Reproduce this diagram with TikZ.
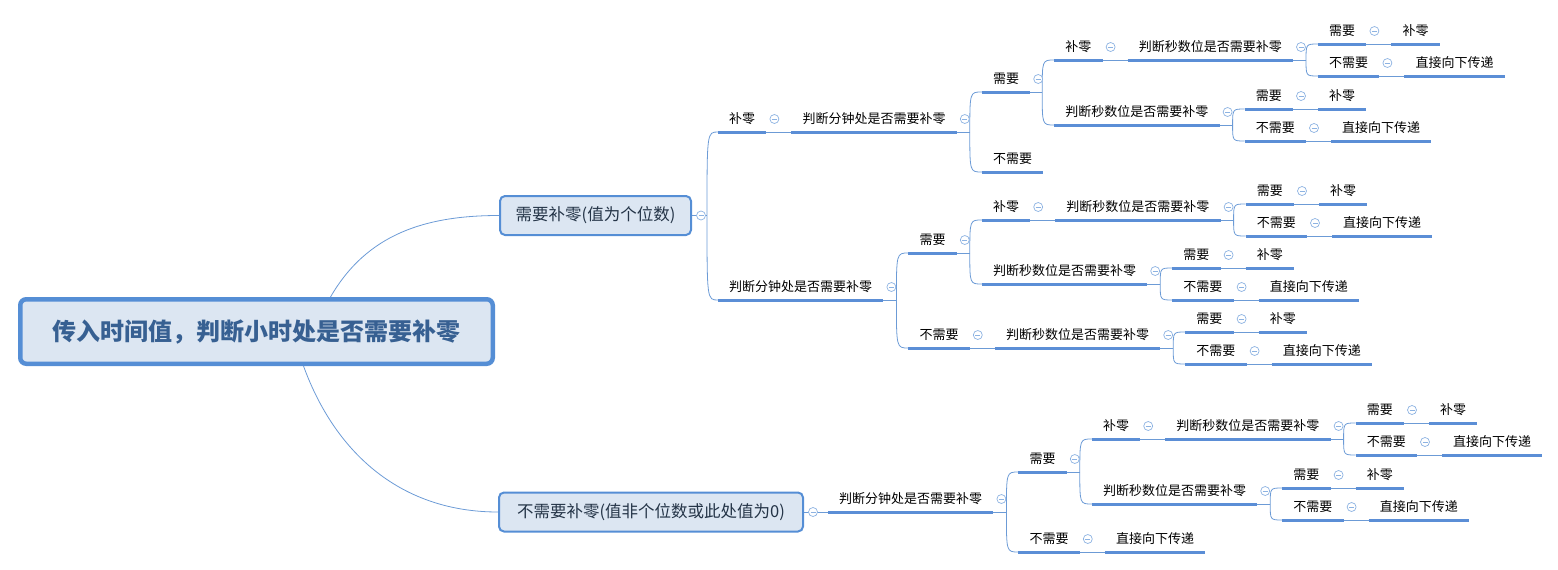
\documentclass[tikz,border=0pt]{standalone}
\usepackage{fontspec}
\newfontfamily\cjk{Noto Sans CJK SC}
\usetikzlibrary{calc}
\definecolor{ublue}{HTML}{5B8ED6}
\definecolor{lblue}{HTML}{6C9BD6}
\definecolor{foldblue}{HTML}{8DB3E2}
\definecolor{boxfill}{HTML}{DCE6F2}
\definecolor{boxline}{HTML}{558ED5}
\definecolor{roottext}{HTML}{376092}
\definecolor{subtext}{HTML}{243447}
\tikzset{
  uline/.style={draw=ublue, line width=3pt},
  link/.style={draw=lblue, line width=0.8pt},
  topic/.style={font=\cjk\fontsize{13}{13}\selectfont, text=black, inner xsep=11pt, inner ysep=0pt,
    text height=13pt, text depth=8pt, anchor=south west,
    append after command={(\tikzlastnode.south west) edge[uline] (\tikzlastnode.south east)}},
  fold/.style={circle, draw=foldblue, line width=0.7pt, fill=white, inner sep=0pt, minimum size=9pt,
    path picture={\draw[foldblue, line width=0.7pt] ([xshift=-2.5pt]path picture bounding box.center) -- ([xshift=2.5pt]path picture bounding box.center);}},
  rootbox/.style={draw=boxline, line width=4.5pt, fill=boxfill, rounded corners=6pt,
    minimum width=472.5pt, minimum height=64.5pt, font=\cjk\bfseries\fontsize{24}{24}\selectfont, text=roottext},
  subbox/.style={draw=boxline, line width=2pt, fill=boxfill, rounded corners=5pt,
    minimum height=39pt, font=\cjk\fontsize{16.5}{16.5}\selectfont, text=subtext}
}
\def\topic{\node[topic]}
\def\drawlink{\draw[link]}
\def\foldnode{\node[fold]}
% bracket from a split point to the start of a child's underline
\def\branch#1#2{\drawlink (#1) .. controls (#1 |- #2) .. (#2);}
% the two answers hanging off a "判断秒数位是否需要补零" topic
\def\secpair#1{%
  \coordinate (#1s) at ($ (#1.south east) + (13,0) $);
  \drawlink (#1.south east) -- (#1s);
  \topic (#1y) at ($ (#1.south east) + (25,16) $) {需要};
  \topic (#1n) at ($ (#1.south east) + (25,-16) $) {不需要};
  \branch{#1s}{#1y.south west}
  \branch{#1s}{#1n.south west}
  \topic (#1ya) at ($ (#1y.south east) + (25,0) $) {补零};
  \topic (#1na) at ($ (#1n.south east) + (25,0) $) {直接向下传递};
  \drawlink (#1y.south east) -- (#1ya.south west);
  \drawlink (#1n.south east) -- (#1na.south west);
  \foldnode (#1f) at ($ (#1.south east) + (8,13) $) {};
  \foldnode (#1yf) at ($ (#1y.south east) + (8,13) $) {};
  \foldnode (#1nf) at ($ (#1n.south east) + (8,13) $) {};
}

\begin{document}
\begin{tikzpicture}[x=1pt,y=1pt]
\useasboundingbox (0,0) rectangle (1558,-570);

% ---------- root and the two first answers
\node[rootbox] (root) at (256.5,-331.5) {传入时间值，判断小时处是否需要补零};
\node[subbox, minimum width=191pt] (A) at (595.5,-215.5) {需要补零(值为个位数)};
\node[subbox, minimum width=304pt] (B) at (651,-512) {不需要补零(值非个位数或此处值为0)};
\coordinate (rootup) at ($ (root.north) + (74,0) $);
\coordinate (rootdown) at ($ (root.south) + (47,0) $);
\drawlink[out=60,in=180] (rootup) to (A.west);
\drawlink[out=-70,in=180] (rootdown) to (B.west);

% ---------- 需要补零
\coordinate (As) at ($ (A.east) + (15,0) $);
\drawlink (A.east) -- (As);
\topic (A1) at ($ (A.east) + (26,83.5) $) {补零};
\topic (A2) at ($ (A.east) + (26,-84.5) $) {判断分钟处是否需要补零};
\branch{As}{A1.south west}
\branch{As}{A2.south west}
\foldnode (Af) at ($ (A.east) + (9,0) $) {};

% upper half: 补零 -> 判断分钟处
\topic (A1a) at ($ (A1.south east) + (25,0) $) {判断分钟处是否需要补零};
\drawlink (A1.south east) -- (A1a.south west);
\foldnode (A1f) at ($ (A1.south east) + (8,13) $) {};
\coordinate (A1as) at ($ (A1a.south east) + (13,0) $);
\drawlink (A1a.south east) -- (A1as);
\topic (A1ay) at ($ (A1a.south east) + (25,40) $) {需要};
\topic (A1an) at ($ (A1a.south east) + (25,-40) $) {不需要};
\branch{A1as}{A1ay.south west}
\branch{A1as}{A1an.south west}
\foldnode (A1af) at ($ (A1a.south east) + (8,13) $) {};
\coordinate (A1ays) at ($ (A1ay.south east) + (12,0) $);
\drawlink (A1ay.south east) -- (A1ays);
\topic (A1ay1) at ($ (A1ay.south east) + (24,32) $) {补零};
\topic (A1ay2) at ($ (A1ay.south east) + (24,-33) $) {判断秒数位是否需要补零};
\branch{A1ays}{A1ay1.south west}
\branch{A1ays}{A1ay2.south west}
\foldnode (A1ayf) at ($ (A1ay.south east) + (8,13) $) {};
\topic (A1ay1a) at ($ (A1ay1.south east) + (25,0) $) {判断秒数位是否需要补零};
\drawlink (A1ay1.south east) -- (A1ay1a.south west);
\foldnode (A1ay1f) at ($ (A1ay1.south east) + (8,13) $) {};
\secpair{A1ay1a}
\secpair{A1ay2}

% lower half: 判断分钟处
\coordinate (A2s) at ($ (A2.south east) + (13,0) $);
\drawlink (A2.south east) -- (A2s);
\topic (A2y) at ($ (A2.south east) + (25,47) $) {需要};
\topic (A2n) at ($ (A2.south east) + (25,-48) $) {不需要};
\branch{A2s}{A2y.south west}
\branch{A2s}{A2n.south west}
\foldnode (A2f) at ($ (A2.south east) + (8,13) $) {};
\coordinate (A2ys) at ($ (A2y.south east) + (13,0) $);
\drawlink (A2y.south east) -- (A2ys);
\topic (A2y1) at ($ (A2y.south east) + (25,33) $) {补零};
\topic (A2y2) at ($ (A2y.south east) + (25,-31) $) {判断秒数位是否需要补零};
\branch{A2ys}{A2y1.south west}
\branch{A2ys}{A2y2.south west}
\foldnode (A2yf) at ($ (A2y.south east) + (8,13) $) {};
\topic (A2y1a) at ($ (A2y1.south east) + (25,0) $) {判断秒数位是否需要补零};
\drawlink (A2y1.south east) -- (A2y1a.south west);
\foldnode (A2y1f) at ($ (A2y1.south east) + (8,13) $) {};
\secpair{A2y1a}
\secpair{A2y2}
\topic (A2n1) at ($ (A2n.south east) + (25,0) $) {判断秒数位是否需要补零};
\drawlink (A2n.south east) -- (A2n1.south west);
\foldnode (A2nf) at ($ (A2n.south east) + (8,13) $) {};
\secpair{A2n1}

% ---------- 不需要补零
\topic (B1) at ($ (B.east) + (24,0) $) {判断分钟处是否需要补零};
\drawlink (B.east) -- (B1.south west);
\foldnode (Bf) at ($ (B.east) + (9,0) $) {};
\coordinate (B1s) at ($ (B1.south east) + (13,0) $);
\drawlink (B1.south east) -- (B1s);
\topic (B1y) at ($ (B1.south east) + (25,40) $) {需要};
\topic (B1n) at ($ (B1.south east) + (25,-40) $) {不需要};
\branch{B1s}{B1y.south west}
\branch{B1s}{B1n.south west}
\foldnode (B1f) at ($ (B1.south east) + (8,13) $) {};
\coordinate (B1ys) at ($ (B1y.south east) + (13,0) $);
\drawlink (B1y.south east) -- (B1ys);
\topic (B1y1) at ($ (B1y.south east) + (25,33) $) {补零};
\topic (B1y2) at ($ (B1y.south east) + (25,-32) $) {判断秒数位是否需要补零};
\branch{B1ys}{B1y1.south west}
\branch{B1ys}{B1y2.south west}
\foldnode (B1yf) at ($ (B1y.south east) + (8,13) $) {};
\topic (B1y1a) at ($ (B1y1.south east) + (25,0) $) {判断秒数位是否需要补零};
\drawlink (B1y1.south east) -- (B1y1a.south west);
\foldnode (B1y1f) at ($ (B1y1.south east) + (8,13) $) {};
\secpair{B1y1a}
\secpair{B1y2}
\topic (B1n1) at ($ (B1n.south east) + (25,0) $) {直接向下传递};
\drawlink (B1n.south east) -- (B1n1.south west);
\foldnode (B1nf) at ($ (B1n.south east) + (8,13) $) {};
\end{tikzpicture}
\end{document}
